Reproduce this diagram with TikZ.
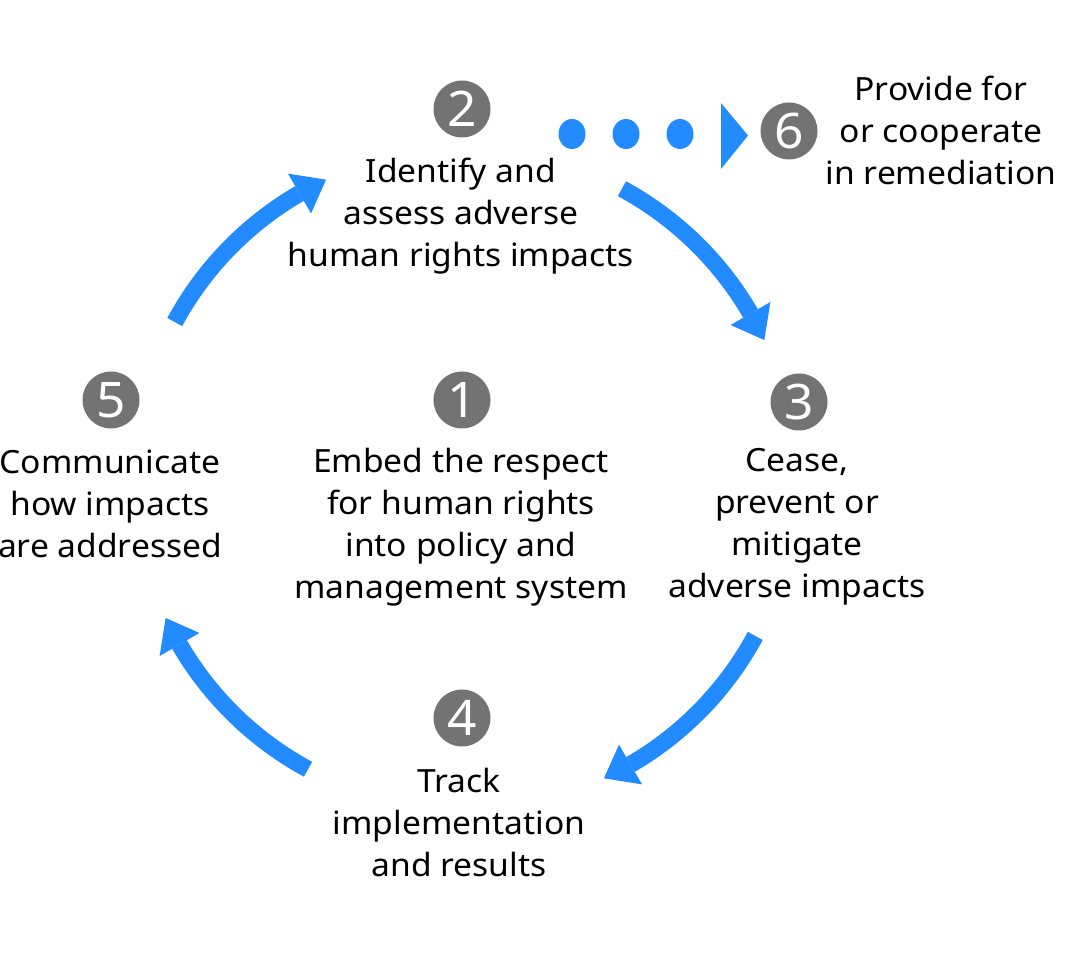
\documentclass[tikz,border=0pt]{standalone}
\usepackage{fontspec}
\setmainfont{Noto Sans}[FakeStretch=1.05]
\usetikzlibrary{calc}
\definecolor{flowblue}{RGB}{34,139,255}
\definecolor{numgray}{RGB}{115,115,115}
\begin{document}
\begin{tikzpicture}[x=0.5pt,y=0.5pt,
  num/.style={circle, fill=numgray, minimum size=28.5pt, inner sep=0pt, text=white,
    font=\fontsize{24.5pt}{24.5pt}\selectfont},
  lbl/.style={anchor=north, inner sep=0pt, align=center,
    font=\fontsize{16pt}{21pt}\selectfont},
  flow/.style={draw=flowblue, line width=8.5pt},
  dot/.style={fill=flowblue}]
\useasboundingbox (0,0) rectangle (1080,957);
\coordinate (c) at (465,478);
% numbered circles
\node[num] (n1) at (462,557) {1};
\node[num] (n2) at (462,848) {2};
\node[num] (n3) at (799,555) {3};
\node[num] (n4) at (462,239) {4};
\node[num] (n5) at (111,557) {5};
\node[num] (n6) at (789,826) {6};
% labels
\node[lbl] (t1) at (461,514.4) {\strut Embed the respect\\for human rights\\into policy and\\management system};
\node[lbl] (t2) at (461,804.4) {\strut Identify and\\assess adverse\\human rights impacts};
\node[lbl] (t3) at (797,515.4) {\strut Cease,\\prevent or\\mitigate\\adverse impacts};
\node[lbl] (t4) at (459,194.4) {\strut Track\\implementation\\and results};
\node[lbl] (t5) at (110,513.4) {\strut Communicate\\how impacts\\are addressed};
\node[lbl] (t6) at (941,886.4) {\strut Provide for\\or cooperate\\in remediation};
% cycle arrows
\foreach \k in {0,90,180,270} {
  \draw[flow] ($(c)+({61.6+\k}:330)$) arc[start angle={61.6+\k}, end angle={30.1+\k}, radius=165pt];
  \fill[flowblue] ($(c)+({24.9+\k}:330)$) -- ($(c)+({30.1+\k}:353)$) -- ($(c)+({30.1+\k}:307)$) -- cycle;
}
% dotted arrow to 6
\fill[dot] (572,823) ellipse [x radius=6.75pt, y radius=7.5pt];
\fill[dot] (626,823) ellipse [x radius=6.75pt, y radius=7.5pt];
\fill[dot] (680,823) ellipse [x radius=6.75pt, y radius=7.5pt];
\coordinate (tipa) at (721,854);
\coordinate (tipb) at (721,788);
\coordinate (tipc) at (748,821.5);
\fill[dot] (tipa) -- (tipc) -- (tipb) -- cycle;
\end{tikzpicture}
\end{document}
